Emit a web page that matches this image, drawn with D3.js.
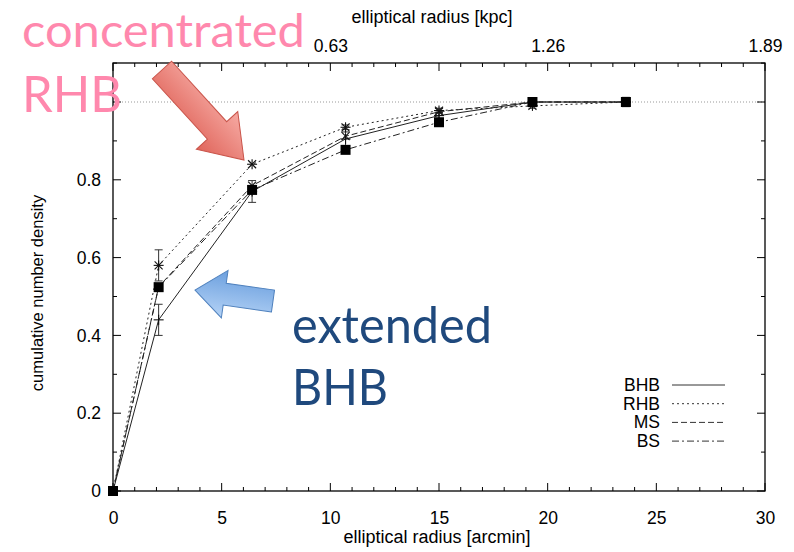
<!DOCTYPE html>
<html><head><meta charset="utf-8">
<script src="https://cdn.jsdelivr.net/npm/d3@7"></script>
<style>body{margin:0;background:#fff}svg{display:block}</style>
</head><body>
<svg id="c" width="794" height="552"></svg>
<script>
const radius = [0, 2.1, 6.4, 10.7, 15.0, 19.3, 23.6];
const bhb = [0, 0.44, 0.77, 0.905, 0.965, 1.0, 1.0];
const bhbErr = [0, 0.04, 0.028, 0.018, 0.008, 0.005, 0.012];
const rhb = [0, 0.58, 0.84, 0.935, 0.978, 0.99, 1.0];
const rhbErr = [0, 0.04, 0, 0.006, 0.006, 0.006, 0];
const ms = [0, 0.525, 0.785, 0.912, 0.975, 1.0, 1.0];
const bs = [0, 0.524, 0.774, 0.877, 0.948, 1.0, 1.0];
const xTicks = [0, 5, 10, 15, 20, 25, 30];
const yTicks = [0, 0.2, 0.4, 0.6, 0.8, 1];
const topTicks = [10, 20, 30];
const topLabels = ["0.63", "1.26", "1.89"];
const seriesNames = ["BHB", "RHB", "MS", "BS"];

const svg = d3.select("#c");
const L = 113, R = 765, T = 63, B = 491;
const x = d3.scaleLinear().domain([0, 30]).range([L, R]);
const y = d3.scaleLinear().domain([0, 1]).range([B, 102]);
const font = "'Liberation Sans', Arial, sans-serif";
const fs = 17.5;

// reference line at 1
svg.append("line").attr("x1", L).attr("x2", R).attr("y1", y(1)).attr("y2", y(1))
  .attr("stroke", "#999").attr("stroke-width", 1).attr("stroke-dasharray", "1,2");

// frame
svg.append("rect").attr("x", L).attr("y", T).attr("width", R - L).attr("height", B - T)
  .attr("fill", "none").attr("stroke", "#000").attr("stroke-width", 1.3);

const minorX = d3.range(0, 31, 1);
const minorY = d3.range(0, 1.25, 0.1).filter(v => y(v) >= T - 0.5);
const tk = svg.append("g").attr("stroke", "#000").attr("stroke-width", 1);
minorX.forEach(v => {
  const len = v % 5 === 0 ? 8 : 4;
  tk.append("line").attr("x1", x(v)).attr("x2", x(v)).attr("y1", B).attr("y2", B - len);
  tk.append("line").attr("x1", x(v)).attr("x2", x(v)).attr("y1", T).attr("y2", T + len);
});
minorY.forEach(v => {
  const len = Math.round(v * 10) % 2 === 0 ? 8 : 4;
  tk.append("line").attr("x1", L).attr("x2", L + len).attr("y1", y(v)).attr("y2", y(v));
  tk.append("line").attr("x1", R).attr("x2", R - len).attr("y1", y(v)).attr("y2", y(v));
});

// axis labels
const xa = d3.axisBottom(x).tickValues(xTicks).tickSize(0).tickPadding(21).tickFormat(d3.format("d"));
svg.append("g").attr("transform", `translate(0,${B})`).call(xa)
  .call(g => g.select(".domain").remove())
  .selectAll("text").attr("font-family", font).attr("font-size", fs).attr("fill", "#000");
const ya = d3.axisLeft(y).tickValues(yTicks).tickSize(0).tickPadding(12)
  .tickFormat(d => d === 1 ? "" : (d === 0 ? "0" : d3.format(".1f")(d)));
svg.append("g").attr("transform", `translate(${L},0)`).call(ya)
  .call(g => g.select(".domain").remove())
  .selectAll("text").attr("font-family", font).attr("font-size", fs).attr("fill", "#000");
const ta = d3.axisTop(x).tickValues(topTicks).tickSize(0).tickPadding(11)
  .tickFormat((d, i) => topLabels[i]);
svg.append("g").attr("transform", `translate(0,${T})`).call(ta)
  .call(g => g.select(".domain").remove())
  .selectAll("text").attr("font-family", font).attr("font-size", fs).attr("fill", "#000");

// titles
svg.append("text").attr("x", 437).attr("y", 543).attr("text-anchor", "middle")
  .attr("font-family", font).attr("font-size", 18).text("elliptical radius [arcmin]");
svg.append("text").attr("x", 432).attr("y", 23).attr("text-anchor", "middle")
  .attr("font-family", font).attr("font-size", 18).text("elliptical radius [kpc]");
svg.append("text").attr("transform", `translate(43,${(T + B) / 2 + 16}) rotate(-90)`)
  .attr("text-anchor", "middle").attr("font-family", font).attr("font-size", 16.5)
  .text("cumulative number density");

// series
const series = [
  {name: "BHB", v: bhb, dash: null, marker: "plus"},
  {name: "RHB", v: rhb, dash: "2,3", marker: "star"},
  {name: "MS", v: ms, dash: "6,3", marker: "cross"},
  {name: "BS", v: bs, dash: "7,3,2,3", marker: "square"}
];
const line = d3.line().x((d, i) => x(radius[i])).y(d => y(d));
const pg = svg.append("g");
series.forEach(s => {
  pg.append("path").datum(s.v).attr("d", line).attr("fill", "none")
    .attr("stroke", "#222").attr("stroke-width", 1)
    .attr("stroke-dasharray", s.dash);
});
function errbars(vals, errs) {
  vals.forEach((v, i) => {
    if (!errs[i]) return;
    const cx = x(radius[i]), y1 = y(v + errs[i]), y2 = y(v - errs[i]);
    const g = pg.append("g").attr("stroke", "#333").attr("stroke-width", 1);
    g.append("line").attr("x1", cx).attr("x2", cx).attr("y1", y1).attr("y2", y2);
    g.append("line").attr("x1", cx - 4).attr("x2", cx + 4).attr("y1", y1).attr("y2", y1);
    g.append("line").attr("x1", cx - 4).attr("x2", cx + 4).attr("y1", y2).attr("y2", y2);
  });
}
errbars(bhb, bhbErr);
errbars(rhb, rhbErr);
function marker(g, type, cx, cy) {
  const m = g.append("g").attr("stroke", "#111").attr("stroke-width", 1.1);
  if (type === "plus" || type === "star") {
    m.append("line").attr("x1", cx - 5).attr("x2", cx + 5).attr("y1", cy).attr("y2", cy);
    m.append("line").attr("x1", cx).attr("x2", cx).attr("y1", cy - 5).attr("y2", cy + 5);
  }
  if (type === "cross" || type === "star") {
    m.append("line").attr("x1", cx - 4).attr("x2", cx + 4).attr("y1", cy - 4).attr("y2", cy + 4);
    m.append("line").attr("x1", cx - 4).attr("x2", cx + 4).attr("y1", cy + 4).attr("y2", cy - 4);
  }
  if (type === "square") {
    m.append("rect").attr("x", cx - 5).attr("y", cy - 5).attr("width", 10).attr("height", 10)
      .attr("fill", "#000").attr("stroke", "none");
  }
}
series.forEach(s => s.v.forEach((v, i) => marker(pg, s.marker, x(radius[i]), y(v))));

// legend
const lg = svg.append("g");
series.forEach((s, i) => {
  const ly = 385 + i * 18.7;
  lg.append("text").attr("x", 660).attr("y", ly + 6).attr("text-anchor", "end")
    .attr("font-family", font).attr("font-size", 17.5).text(s.name);
  lg.append("line").attr("x1", 672).attr("x2", 725).attr("y1", ly).attr("y2", ly)
    .attr("stroke", "#333").attr("stroke-width", 1).attr("stroke-dasharray", s.dash);
});

// annotations
const defs = svg.append("defs");
const rg = defs.append("linearGradient").attr("id", "rg").attr("x1", 0).attr("y1", 0).attr("x2", 0).attr("y2", 1);
rg.append("stop").attr("offset", 0).attr("stop-color", "#f6aaa3");
rg.append("stop").attr("offset", 1).attr("stop-color", "#e0655b");
const bg = defs.append("linearGradient").attr("id", "bg").attr("x1", 0).attr("y1", 0).attr("x2", 0).attr("y2", 1);
bg.append("stop").attr("offset", 0).attr("stop-color", "#b5d3f6");
bg.append("stop").attr("offset", 1).attr("stop-color", "#6b9fde");

function blockArrow(x0, y0, x1, y1, sw, hw, hl, fill, stroke) {
  const dx = x1 - x0, dy = y1 - y0, len = Math.hypot(dx, dy);
  const ang = Math.atan2(dy, dx) * 180 / Math.PI;
  const pts = [[0, -sw / 2], [len - hl, -sw / 2], [len - hl, -hw / 2], [len, 0],
               [len - hl, hw / 2], [len - hl, sw / 2], [0, sw / 2]];
  svg.append("polygon").attr("points", pts.map(p => p.join(",")).join(" "))
    .attr("transform", `translate(${x0},${y0}) rotate(${ang})`)
    .attr("fill", fill).attr("stroke", stroke).attr("stroke-width", 1);
}
blockArrow(162, 70, 244, 160, 26, 56, 40, "url(#rg)", "#c9544a");
blockArrow(273, 301, 195, 290, 22, 48, 30, "url(#bg)", "#4f81bd");

const afont = "Lato, 'Open Sans', sans-serif";
svg.append("text").attr("x", 22).attr("y", 47).attr("font-family", afont).attr("font-size", 47)
  .attr("fill", "#ff88ad").attr("textLength", 283).attr("lengthAdjust", "spacingAndGlyphs").text("concentrated");
svg.append("text").attr("x", 22).attr("y", 112).attr("font-family", afont).attr("font-size", 51)
  .attr("fill", "#ff88ad").attr("textLength", 100).attr("lengthAdjust", "spacingAndGlyphs").text("RHB");
svg.append("text").attr("x", 292).attr("y", 343).attr("font-family", afont).attr("font-size", 50)
  .attr("fill", "#1f497d").attr("textLength", 200).attr("lengthAdjust", "spacingAndGlyphs").text("extended");
svg.append("text").attr("x", 292).attr("y", 405).attr("font-family", afont).attr("font-size", 51)
  .attr("fill", "#1f497d").attr("textLength", 96).attr("lengthAdjust", "spacingAndGlyphs").text("BHB");
</script>
</body></html>
